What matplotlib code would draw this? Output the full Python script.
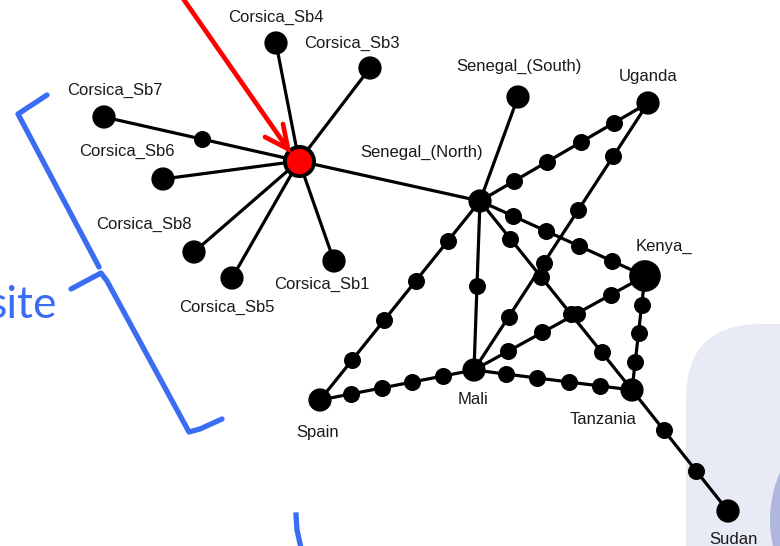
import matplotlib.pyplot as plt
import numpy as np
from matplotlib.patches import FancyBboxPatch, Ellipse

# haplotypes: name, layout position (px), sample count
names = ["Corsica_Sb2", "Corsica_Sb4", "Corsica_Sb3", "Corsica_Sb7", "Corsica_Sb6",
         "Corsica_Sb8", "Corsica_Sb5", "Corsica_Sb1", "Senegal_(North)",
         "Senegal_(South)", "Uganda", "Kenya_", "Mali", "Spain", "Tanzania", "Sudan"]
pos_x = [299, 276, 370, 104, 163, 194, 232, 334, 480, 518, 648, 645, 474, 320, 632, 728]
pos_y = [161, 43, 68, 117, 179, 252, 278, 261, 201, 97, 103, 276, 370, 400, 390, 511]
counts = [3, 1, 1, 1, 1, 1, 1, 1, 1, 1, 1, 3, 1, 1, 1, 1]
label_dx = [None, 0, -18, 11, -36, -50, -5, -12, -58, 1, 0, 19, -1, -2, -29, 5]
label_dy = [None, -26, -25, -27, -28, -28, 29, 23, -49, -31, -27, -30, 30, 33, 29, 28]

# links between haplotypes and number of unsampled steps along each link
edges = [
    ("Corsica_Sb2", "Corsica_Sb4", 0),
    ("Corsica_Sb2", "Corsica_Sb3", 0),
    ("Corsica_Sb2", "Corsica_Sb7", 1),
    ("Corsica_Sb2", "Corsica_Sb6", 0),
    ("Corsica_Sb2", "Corsica_Sb8", 0),
    ("Corsica_Sb2", "Corsica_Sb5", 0),
    ("Corsica_Sb2", "Corsica_Sb1", 0),
    ("Corsica_Sb2", "Senegal_(North)", 0),
    ("Senegal_(North)", "Senegal_(South)", 0),
    ("Senegal_(North)", "Uganda", 4),
    ("Senegal_(North)", "Kenya_", 4),
    ("Senegal_(North)", "Tanzania", 4),
    ("Senegal_(North)", "Mali", 1),
    ("Senegal_(North)", "Spain", 4),
    ("Uganda", "Mali", 4),
    ("Mali", "Kenya_", 4),
    ("Mali", "Tanzania", 4),
    ("Mali", "Spain", 4),
    ("Kenya_", "Tanzania", 3),
    ("Tanzania", "Sudan", 2),
]

fig = plt.figure(figsize=(7.8, 5.46), dpi=100)
ax = fig.add_axes([0, 0, 1, 1])
ax.set_xlim(0, 780)
ax.set_ylim(546, 0)
ax.axis("off")

# slide background shapes in the lower right corner
ax.add_patch(FancyBboxPatch((686, 324), 320, 400, boxstyle="round,pad=0,rounding_size=75",
                            fc="#e8eaf5", ec="none", zorder=0))
ax.add_patch(Ellipse((862, 520), 184, 210, fc="#b0b7dc", ec="none", zorder=0.5))

idx = {n: i for i, n in enumerate(names)}
mid_x, mid_y = [], []
for a, b, steps in edges:
    x0, y0 = pos_x[idx[a]], pos_y[idx[a]]
    x1, y1 = pos_x[idx[b]], pos_y[idx[b]]
    ax.plot([x0, x1], [y0, y1], color="black", lw=2.3, zorder=1, solid_capstyle="round")
    for k in range(1, steps + 1):
        t = k / (steps + 1)
        mid_x.append(x0 + t * (x1 - x0))
        mid_y.append(y0 + t * (y1 - y0))

ax.scatter(mid_x, mid_y, s=150, color="black", zorder=2, linewidths=0)

sizes = [280 if c == 1 else 520 for c in counts]
colors = ["red" if n == "Corsica_Sb2" else "black" for n in names]
ax.scatter(pos_x[1:], pos_y[1:], s=sizes[1:], c=colors[1:], zorder=3, linewidths=0)
ax.scatter(pos_x[:1], pos_y[:1], s=440, c=colors[:1], edgecolors="black",
           linewidths=2.8, zorder=4)

for i, n in enumerate(names):
    if label_dx[i] is None:
        continue
    ax.text(pos_x[i] + label_dx[i], pos_y[i] + label_dy[i], n, ha="center", va="center",
            fontsize=12, family="Liberation Sans", color="#1a1a1a", zorder=5)

# red pointer arrow
ax.plot([182, 288], [-3, 149], color="#ff0000", lw=3.4, solid_capstyle="round", zorder=6)
ax.plot([265, 288, 283], [137, 149, 124], color="#ff0000", lw=3.4,
        solid_capstyle="round", solid_joinstyle="miter", zorder=6)

# blue bracket and caption
blue = "#3a6cf4"
ax.plot([47, 18, 99], [95, 114, 267], color=blue, lw=3.8, solid_capstyle="round",
        solid_joinstyle="round", zorder=6)
ax.plot([71, 101, 107, 189, 200, 222], [289, 273, 281, 432, 429, 419], color=blue,
        lw=3.8, solid_capstyle="round", solid_joinstyle="round", zorder=6)
ax.plot([296, 297, 301], [515, 530, 548], color=blue, lw=3.8, zorder=6)
ax.text(57, 318, "site", ha="right", va="baseline", fontsize=32, family="Lato",
        color=blue, zorder=6)

fig.savefig("out.png", dpi=100)
